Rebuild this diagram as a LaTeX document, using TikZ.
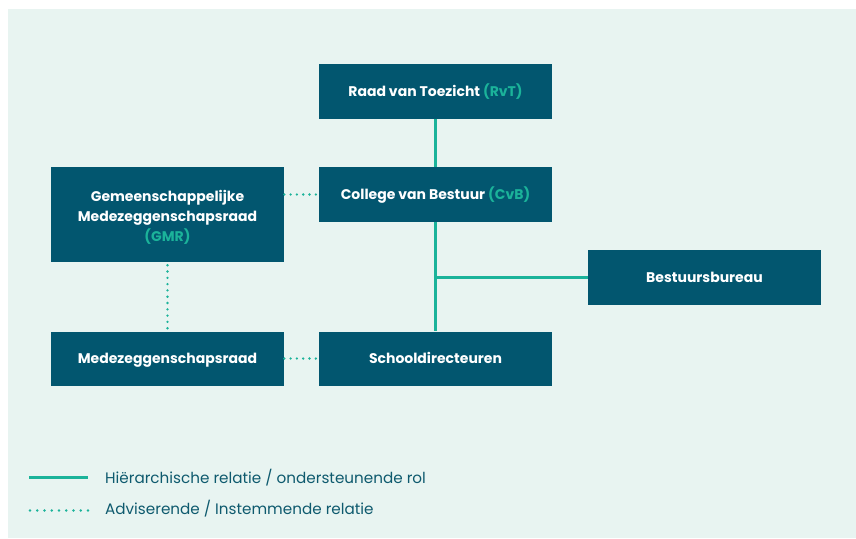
\documentclass[tikz,border=0pt]{standalone}
\usepackage{fontspec}
\setmainfont{Poppins}
\usetikzlibrary{calc}

\definecolor{boxblue}{HTML}{02566F}
\definecolor{accent}{HTML}{1BB39A}
\definecolor{mint}{HTML}{E8F4F1}
\definecolor{legendtext}{HTML}{0E5A6E}

\newcommand{\afk}[1]{\textcolor{accent}{#1}}

\tikzset{
    orgbox/.style={rectangle, fill=boxblue, text=white, font=\bfseries\fontsize{14}{20}\selectfont,
        minimum width=233pt, minimum height=55pt, align=center, inner sep=0pt,
        text height=9.8pt, text depth=0pt},
    hier/.style={draw=accent, line width=3pt},
    advies/.style={draw=accent, line width=2.6pt, line cap=round, dash pattern=on 0pt off 6.3pt},
    legendlabel/.style={anchor=west, text=legendtext, font=\fontsize{15.2}{18}\selectfont, inner sep=0pt}
}

\begin{document}
\begin{tikzpicture}[x=1pt, y=-1pt]
    \useasboundingbox (0, 0) rectangle (856, 538);
    \fill[mint] (8, 9) rectangle (856, 538);

    % boxes
    \node[orgbox] (rvt) at (435.5, 91.5) {Raad van Toezicht \afk{(RvT)}};
    \node[orgbox] (cvb) at (435.5, 194.5) {College van Bestuur \afk{(CvB)}};
    \node[orgbox, minimum height=95pt, text height=53.2pt] (gmr) at (167.5, 214.5) {Gemeenschappelijke\\Medezeggenschapsraad\\\afk{(GMR)}};
    \node[orgbox] (bb) at (704.5, 277.5) {Bestuursbureau};
    \node[orgbox, minimum height=54pt] (mr) at (167.5, 358.5) {Medezeggenschapsraad};
    \node[orgbox, minimum height=54pt] (sd) at (435.5, 358.5) {Schooldirecteuren};

    % lijnen
    \draw[hier] (rvt) -- (cvb);
    \draw[hier] (cvb) -- (sd);
    \draw[hier] (bb.west) -- (bb.west -| cvb.south);

    \draw[advies] ($(cvb.west)+(-3,0)$) -- (cvb.west -| gmr.east);
    \draw[advies] ($(gmr.south)+(0,3)$) -- (mr.north);
    \draw[advies] ($(sd.west)+(-3,0)$) -- (mr.east);

    % legenda
    \coordinate (hierA) at (29, 477.5);
    \coordinate (hierB) at (88, 477.5);
    \coordinate (advA) at (30, 510.5);
    \coordinate (advB) at (88, 510.5);
    \draw[hier] (hierA) -- (hierB);
    \draw[advies, dash pattern=on 0pt off 7.25pt] (advA) -- (advB);
    \node[legendlabel] (hierlabel) at (105, 478) {Hiërarchische relatie / ondersteunende rol};
    \node[legendlabel] (advlabel) at (105, 509) {Adviserende / Instemmende relatie};
\end{tikzpicture}
\end{document}
